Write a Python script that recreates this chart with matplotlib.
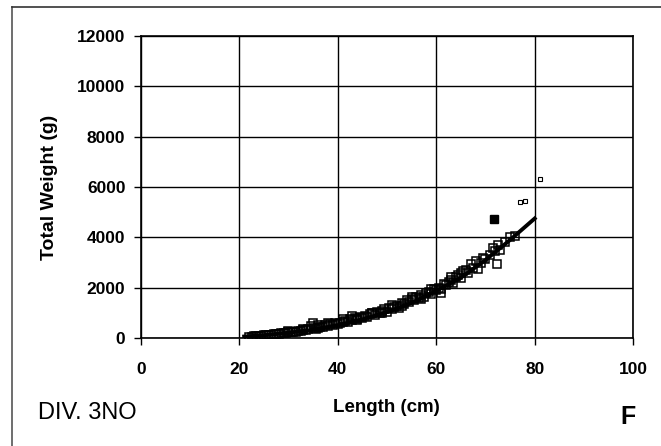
import matplotlib
matplotlib.use('Agg')
import matplotlib.pyplot as plt

plt.rcParams['font.family'] = ['Liberation Sans', 'DejaVu Sans']

# length-weight observations (cm, g)
length = [22, 22.5, 23, 23.5, 24, 24.5, 25, 25.5, 26, 26.5, 27, 27.5, 28, 28.5,
          29, 29.5, 30, 30.5, 31, 31.5, 32, 32.5, 33, 33.5, 34, 34.5, 35, 35.2,
          35.5, 36, 36.5, 37, 37.5, 38, 38.5, 39, 39.5, 40, 40.5, 41, 41.5, 42,
          42.5, 43, 43.5, 44, 44.5, 45, 45.5, 46, 46.5, 47, 47.5, 48, 48.5, 49,
          49.5, 50, 50.5, 51, 51.5, 52, 52.5, 53, 53.5, 54, 54.5, 55, 55.5, 56,
          56.5, 57, 57.5, 58, 58.5, 59, 59.5, 60, 60.5, 61, 61.5, 62, 62.5, 63,
          63.5, 64, 64.5, 65, 65.5, 66, 66.5, 67, 67.5, 68, 68.5, 69, 69.5, 70,
          71, 71.5, 72, 72.3, 72.5, 73, 74, 75, 76,
          30, 33, 36, 38, 41, 43, 44, 47, 49, 51, 53, 55, 57, 59, 61, 63, 65]
weight = [60, 70, 80, 75, 100, 95, 120, 130, 140, 130, 160, 170, 180, 190,
          210, 200, 230, 250, 260, 250, 280, 300, 310, 330, 360, 500, 620, 400,
          380, 420, 440, 450, 520, 500, 560, 540, 600, 560, 620, 650, 700, 660,
          760, 720, 800, 780, 850, 800, 900, 850, 950, 1000, 920, 1050, 1000, 1100,
          1150, 1050, 1200, 1150, 1250, 1300, 1200, 1400, 1350, 1500, 1450, 1550, 1500, 1650,
          1600, 1700, 1650, 1800, 1850, 1750, 1950, 1900, 2000, 1950, 2150, 2100, 2250, 2300,
          2200, 2450, 2500, 2400, 2650, 2700, 2600, 2950, 2800, 3050, 2750, 3000, 3200, 3150,
          3300, 3600, 3450, 2950, 3700, 3500, 3800, 4000, 4050,
          290, 380, 520, 620, 760, 870, 720, 1000, 1000, 1320, 1300, 1650, 1560, 1950, 1800, 2420, 2600]

# a few large fish off the curve
odd_length = [77, 78, 81]
odd_weight = [5400, 5450, 6330]

# single heavy fish
big_length = [71.8]
big_weight = [4730]

# fitted curve
fit_length = [21, 25, 30, 35, 40, 45, 50, 55, 60, 65, 70, 75, 80]
fit_weight = [70, 120, 220, 340, 520, 750, 1040, 1400, 1880, 2400, 3100, 3900, 4750]

x_ticks = [0, 20, 40, 60, 80, 100]
y_ticks = [0, 2000, 4000, 6000, 8000, 10000, 12000]

fig = plt.figure(figsize=(6.61, 4.46), dpi=100)
ax = fig.add_axes([0.2129, 0.2415, 0.745, 0.6785])

ax.plot(length, weight, 's', mfc='none', mec='black', ms=5.2, mew=1.1)
ax.plot(odd_length, odd_weight, 's', mfc='none', mec='black', ms=2.5, mew=0.8)
ax.plot(big_length, big_weight, 's', color='black', ms=6)
ax.plot(fit_length, fit_weight, '-', color='black', lw=2.8)

ax.set_xlim(0, 100)
ax.set_ylim(0, 12000)
ax.set_xticks(x_ticks)
ax.set_yticks(y_ticks)
ax.grid(True, color='black', lw=1.0)
ax.set_axisbelow(True)
for s in ax.spines.values():
    s.set_color('black')
    s.set_linewidth(1.2)
ax.tick_params(direction='out', length=5, width=1, pad=6)
for lab in ax.get_xticklabels() + ax.get_yticklabels():
    lab.set_fontsize(12.5)
    lab.set_fontweight('bold')
ax.tick_params(axis='x', pad=12)

ax.set_ylabel('Total Weight (g)', fontsize=14, fontweight='bold', labelpad=14)
fig.text(0.584, 0.087, 'Length (cm)', fontsize=13.5, fontweight='bold',
         ha='center', va='center')
fig.text(0.058, 0.073, 'DIV. 3NO', fontsize=17, ha='left', va='center')
fig.text(0.95, 0.065, 'F', fontsize=18, fontweight='bold', ha='center', va='center')

# outer frame lines
fig.add_artist(plt.Line2D([0.018, 0.018], [0.0, 0.984], color='#555555', lw=1.2))
fig.add_artist(plt.Line2D([0.018, 1.0], [0.984, 0.984], color='#333333', lw=1.2))

fig.savefig('out.png', dpi=100)
